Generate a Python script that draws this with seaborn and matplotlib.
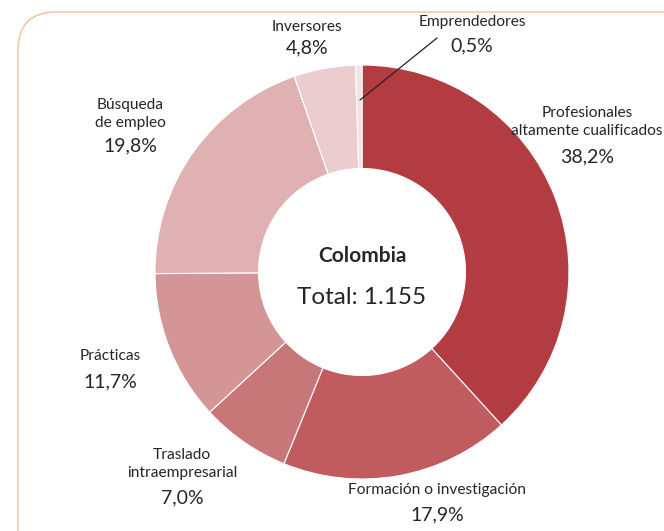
import matplotlib
matplotlib.use("Agg")
import matplotlib.pyplot as plt
import seaborn as sns
from matplotlib.patches import FancyBboxPatch

categories = ["Profesionales\naltamente cualificados", "Formación o investigación",
              "Traslado\nintraempresarial", "Prácticas", "Búsqueda\nde empleo",
              "Inversores", "Emprendedores"]
values = [38.2, 17.9, 7.0, 11.7, 19.8, 4.8, 0.5]
colors = ["#B33C43", "#C05B60", "#C87779", "#D49596", "#DFB1B3", "#EBCDCF", "#F4E3E3"]
center_title = "Colombia"
center_total = "Total: 1.155"

sns.set_theme(style="white")
plt.rcParams['font.family'] = ['Lato', 'DejaVu Sans']

W, H = 664, 531
fig = plt.figure(figsize=(W / 100, H / 100), dpi=100)
ax = fig.add_axes([0, 0, 1, 1])
ax.set_xlim(0, W)
ax.set_ylim(0, H)
ax.set_aspect('equal')
ax.axis('off')

def Y(yp):
    return H - yp

# rounded border
border = FancyBboxPatch((18, -60), 720, Y(12) + 60, boxstyle="round,pad=0,rounding_size=38",
                        fill=False, edgecolor="#F8C2A0", linewidth=1.1, zorder=0)
ax.add_patch(border)

cx, cy, R = 362, Y(272), 207
ax.pie(values, colors=colors, startangle=90, counterclock=False,
       center=(cx, cy), radius=R, frame=True,
       wedgeprops=dict(width=R * 0.5, edgecolor="white", linewidth=0.8))
ax.set_xlim(0, W)
ax.set_ylim(0, H)
ax.axis('off')

txt = "#262626"
ax.text(cx, Y(256), center_title, ha='center', va='center', fontsize=15,
        fontweight='bold', color=txt)
ax.text(cx, Y(298), center_total, ha='center', va='center', fontsize=17.5, color=txt)

def pct(v):
    return f"{v:.1f}%".replace(".", ",")

# label positions (pixel coords): name center y, pct center y
label_pos = [
    (587, 122, 157),
    (437, 490, 515),
    (182, 464, 498),
    (110, 356, 382),
    (130, 114, 146),
    (307, 27, 48),
    (472, 22, 46),
]
for name, v, (x, yn, yp) in zip(categories, values, label_pos):
    ax.text(x, Y(yn), name, ha='center', va='center', fontsize=11.2,
            color=txt, linespacing=1.4)
    ax.text(x, Y(yp), pct(v), ha='center', va='center', fontsize=14, color=txt)

# leader line for Emprendedores
ax.plot([360, 437], [Y(100), Y(38)], color="#222222", linewidth=0.9)

fig.savefig("out.png", dpi=100)
